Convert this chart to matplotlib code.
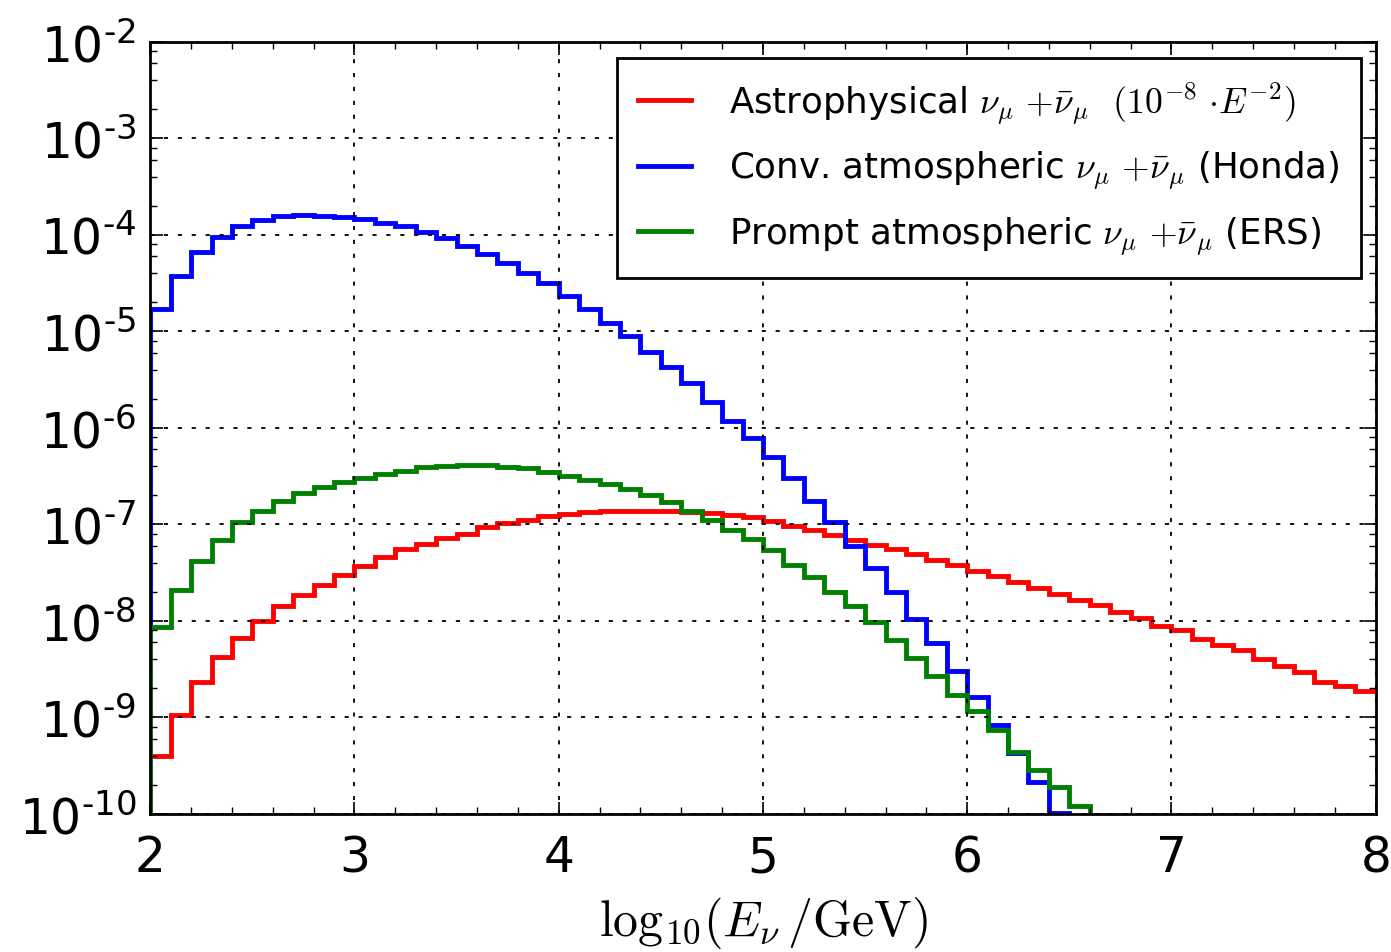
import numpy as np
import matplotlib
matplotlib.use("Agg")
import matplotlib.pyplot as plt
from matplotlib import ticker
from matplotlib.font_manager import FontProperties

# bin edges in log10(E/GeV), width 0.1
edges_astro = np.round(np.arange(2.0, 8.0001, 0.1), 2)
edges_conv = np.round(np.arange(2.0, 6.5001, 0.1), 2)
edges_prompt = np.round(np.arange(2.0, 6.6001, 0.1), 2)

# log10 of the bin contents
astro_log10 = [
    -9.40, -8.98, -8.63, -8.38, -8.18, -8.00, -7.85, -7.73, -7.63, -7.53,
    -7.43, -7.34, -7.26, -7.20, -7.14, -7.10, -7.03, -6.99, -6.95, -6.91,
    -6.89, -6.87, -6.86, -6.86, -6.86, -6.86, -6.87, -6.88, -6.90, -6.92,
    -6.97, -7.02, -7.06, -7.11, -7.16, -7.21, -7.26, -7.31, -7.37, -7.42,
    -7.48, -7.54, -7.60, -7.66, -7.72, -7.78, -7.84, -7.91, -7.97, -8.05,
    -8.10, -8.19, -8.25, -8.30, -8.40, -8.47, -8.53, -8.63, -8.68, -8.73,
]
conv_log10 = [
    -4.77, -4.43, -4.18, -4.02, -3.91, -3.85, -3.80, -3.79, -3.80, -3.82,
    -3.84, -3.88, -3.91, -3.97, -4.03, -4.12, -4.20, -4.29, -4.40, -4.50,
    -4.63, -4.77, -4.91, -5.05, -5.21, -5.37, -5.54, -5.73, -5.93, -6.11,
    -6.30, -6.52, -6.76, -6.98, -7.22, -7.45, -7.70, -7.98, -8.23, -8.52,
    -8.79, -9.08, -9.37, -9.67, -9.99,
]
prompt_log10 = [
    -8.06, -7.68, -7.38, -7.16, -6.98, -6.86, -6.76, -6.68, -6.61, -6.56,
    -6.52, -6.48, -6.45, -6.41, -6.40, -6.39, -6.39, -6.41, -6.42, -6.46,
    -6.50, -6.54, -6.58, -6.63, -6.70, -6.77, -6.86, -6.95, -7.06, -7.15,
    -7.27, -7.42, -7.55, -7.70, -7.85, -8.01, -8.20, -8.39, -8.57, -8.77,
    -8.93, -9.13, -9.36, -9.55, -9.72, -9.92,
]

labels = [
    r'Astrophysical $\nu_\mu$ $+\bar{\nu}_\mu$  $(10^{-8}\ {\cdot}E^{-2})$',
    r'Conv. atmospheric $\nu_\mu$ $+\bar{\nu}_\mu$ (Honda)',
    r'Prompt atmospheric $\nu_\mu$ $+\bar{\nu}_\mu$ (ERS)',
]

plt.rcParams['mathtext.fontset'] = 'dejavusans'


def pow10_label(v, pos):
    # old-style "10^-n" with a plain hyphen in the exponent
    e = int(round(np.log10(v)))
    sign = '-' if e < 0 else ''
    return r'$\mathdefault{10^{\text{%s%d}}}$' % (sign, abs(e))


fig = plt.figure(figsize=(13.91, 9.53), dpi=100)
ax = fig.add_axes([0.108, 0.145, 0.881, 0.810])

ax.stairs(10.0 ** np.array(astro_log10), edges_astro, baseline=None,
          color='red', lw=3.5, label=labels[0])
ax.stairs(10.0 ** np.array(conv_log10), edges_conv, baseline=1e-12,
          color='blue', lw=3.5, label=labels[1])
ax.stairs(10.0 ** np.array(prompt_log10), edges_prompt, baseline=1e-12,
          color='green', lw=3.5, label=labels[2])

ax.set_yscale('log')
ax.set_xlim(2, 8)
ax.set_ylim(1e-10, 1e-2)
ax.xaxis.set_major_locator(ticker.MultipleLocator(1))
ax.xaxis.set_minor_locator(ticker.MultipleLocator(0.2))
ax.yaxis.set_major_locator(ticker.LogLocator(base=10, numticks=20))
ax.yaxis.set_major_formatter(ticker.FuncFormatter(pow10_label))
ax.yaxis.set_minor_locator(ticker.LogLocator(base=10, subs=(2, 4, 6, 8), numticks=20))
ax.yaxis.set_minor_formatter(ticker.NullFormatter())

ax.tick_params(which='both', direction='in', top=True, right=True)
ax.tick_params(which='major', length=9, width=1.2, labelsize=35)
ax.tick_params(which='minor', length=5, width=1.0)
ax.tick_params(axis='x', pad=14)
ax.tick_params(axis='y', pad=10)
for sp in ax.spines.values():
    sp.set_linewidth(2)
ax.grid(True, which='major', color='black', linestyle=(0, (2.3, 5.4)),
        linewidth=1.3)

ax.set_xlabel(r'$\mathrm{log}_{10}(E_\nu\,/\mathrm{GeV})$', fontsize=36,
              math_fontfamily='cm', labelpad=9)

leg = ax.legend(loc='upper right', bbox_to_anchor=(0.988, 0.979),
                borderaxespad=0, fancybox=False, framealpha=1,
                edgecolor='black', handlelength=1.5, handletextpad=1.05,
                labelspacing=0.65, borderpad=0.6,
                prop=FontProperties(size=25.7, math_fontfamily='cm'))
leg.get_frame().set_linewidth(2)

fig.savefig('out.png', dpi=100)
